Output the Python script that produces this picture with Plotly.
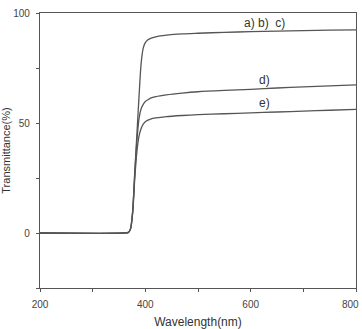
import plotly.graph_objects as go

wavelength = [200, 360, 368, 372, 376, 380, 384, 388, 392, 396, 400, 405, 410, 420, 440, 470, 500, 550, 600, 650, 700, 750, 800]
abc = [0, 0, 0.3, 2, 10, 28, 45, 62, 77, 84, 86.5, 87.8, 88.5, 89.2, 89.9, 90.5, 90.8, 91.2, 91.5, 91.8, 92, 92.2, 92.3]
d = [0, 0, 0.3, 2, 10, 27, 42, 52, 56.5, 58.5, 59.8, 60.6, 61.3, 62, 62.8, 63.6, 64.2, 64.8, 65.3, 65.9, 66.4, 66.9, 67.3]
e = [0, 0, 0.3, 2, 9, 25, 37, 44, 47.5, 49.5, 50.6, 51.3, 51.8, 52.3, 52.9, 53.4, 53.8, 54.2, 54.6, 55, 55.4, 55.8, 56.2]

labels = ["a) b)  c)", "d)", "e)"]
label_x = [627, 627, 627]
label_y = [95.5, 69.5, 59]

x_tickvals = [200, 300, 400, 500, 600, 700, 800]
x_ticktext = ["200", "", "400", "", "600", "", "800"]
y_tickvals = [-25, 0, 25, 50, 75, 100]
y_ticktext = ["", "0", "", "50", "", "100"]

tick_font = dict(family="Liberation Sans Narrow, Arial Narrow, Liberation Sans, Arial", size=10, color="#444444")

fig = go.Figure()
for ys in (abc, d, e):
    fig.add_trace(go.Scatter(x=wavelength, y=ys, mode="lines",
                             line=dict(color="#555555", width=1.3, shape="spline", smoothing=0.7),
                             showlegend=False, hoverinfo="skip"))

for t, lx, ly in zip(labels, label_x, label_y):
    fig.add_annotation(x=lx, y=ly, text=t, showarrow=False,
                       font=dict(family="Liberation Sans Narrow, Arial Narrow, Liberation Sans, Arial", size=12, color="#333333"))

# last x tick label, kept inside the picture at the right edge
fig.add_annotation(x=1, y=0, xref="paper", yref="paper", xanchor="right", yanchor="top",
                   xshift=5, yshift=-9, text=x_ticktext[-1], showarrow=False, font=tick_font)

axis_common = dict(showgrid=False, zeroline=False, showline=True, linecolor="#555555", linewidth=1.2,
                   mirror=True, ticks="outside", ticklen=3, tickcolor="#555555", tickwidth=1,
                   tickfont=tick_font, automargin=False)

fig.update_xaxes(range=[200, 800], tickvals=x_tickvals, ticktext=x_ticktext, ticklabelstandoff=4,
                 title=dict(text="Wavelength(nm)", standoff=10,
                            font=dict(family="Liberation Sans, Arial", size=12, color="#333333")),
                 **axis_common)
fig.update_yaxes(range=[-25, 100], tickvals=y_tickvals, ticktext=y_ticktext, ticklabelstandoff=4,
                 title=dict(text="Transmittance(%)", standoff=6,
                            font=dict(family="Liberation Sans, Arial", size=11, color="#333333")),
                 **axis_common)

fig.update_layout(width=362, height=329, margin=dict(l=40, r=6, t=13, b=41),
                  plot_bgcolor="white", paper_bgcolor="white")

fig.write_html("out.html")
